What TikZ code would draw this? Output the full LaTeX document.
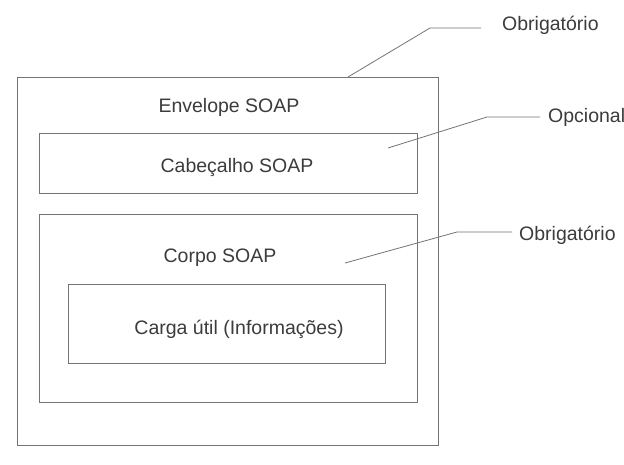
\documentclass[tikz,border=0pt]{standalone}
\usepackage{fontspec}
\setmainfont{Liberation Sans}
\definecolor{linegray}{HTML}{747474}
\definecolor{inkgray}{HTML}{3C3C3C}
\begin{document}
\begin{tikzpicture}[x=1pt,y=-1pt,
  frame/.style={draw=linegray,line width=0.9pt,rectangle,inner sep=0pt},
  caption/.style={text=inkgray,font=\fontsize{19.5}{23}\selectfont,inner sep=0pt,anchor=base},
  tag/.style={text=inkgray,font=\fontsize{19.5}{23}\selectfont,inner sep=0pt,anchor=base west},
  leader/.style={draw=linegray,line width=0.8pt}]
\useasboundingbox[fill=white] (0,0) rectangle (624,465);

% nested message boxes
\node[frame,minimum width=421pt,minimum height=368pt] (envelope) at (227.5,261) {};
\node[frame,minimum width=378pt,minimum height=60pt]  (header)   at (228,163) {};
\node[frame,minimum width=378pt,minimum height=188pt] (body)     at (228,308.5) {};
\node[frame,minimum width=317pt,minimum height=79pt]  (payload)  at (226.5,323.5) {};

% box titles
\node[caption] (envtitle)  at (229,113)   {Envelope SOAP};
\node[caption] (hdrtitle)  at (237,173)   {Cabeçalho SOAP};
\node[caption] (bodytitle) at (220,262.5) {Corpo SOAP};
\node[caption] (loadtitle) at (239,334.5) {Carga útil (Informações)};

% side notes
\node[tag] (reqenv)  at (502,31)  {Obrigatório};
\node[tag] (opthdr)  at (548,123) {Opcional};
\node[tag] (reqbody) at (519,241) {Obrigatório};

% leader lines
\coordinate (envpin)  at (348,77);
\coordinate (envknee) at (430,28);
\coordinate (envend)  at (481,28);
\coordinate (hdrpin)  at (388,148);
\coordinate (hdrknee) at (487,117);
\coordinate (hdrend)  at (540,117);
\coordinate (bodypin)  at (345,263);
\coordinate (bodyknee) at (457,232);
\coordinate (bodyend)  at (512,232);

\draw[leader] (envpin) -- (envknee) -- (envend);
\draw[leader] (hdrpin) -- (hdrknee) -- (hdrend);
\draw[leader] (bodypin) -- (bodyknee) -- (bodyend);
\end{tikzpicture}
\end{document}
